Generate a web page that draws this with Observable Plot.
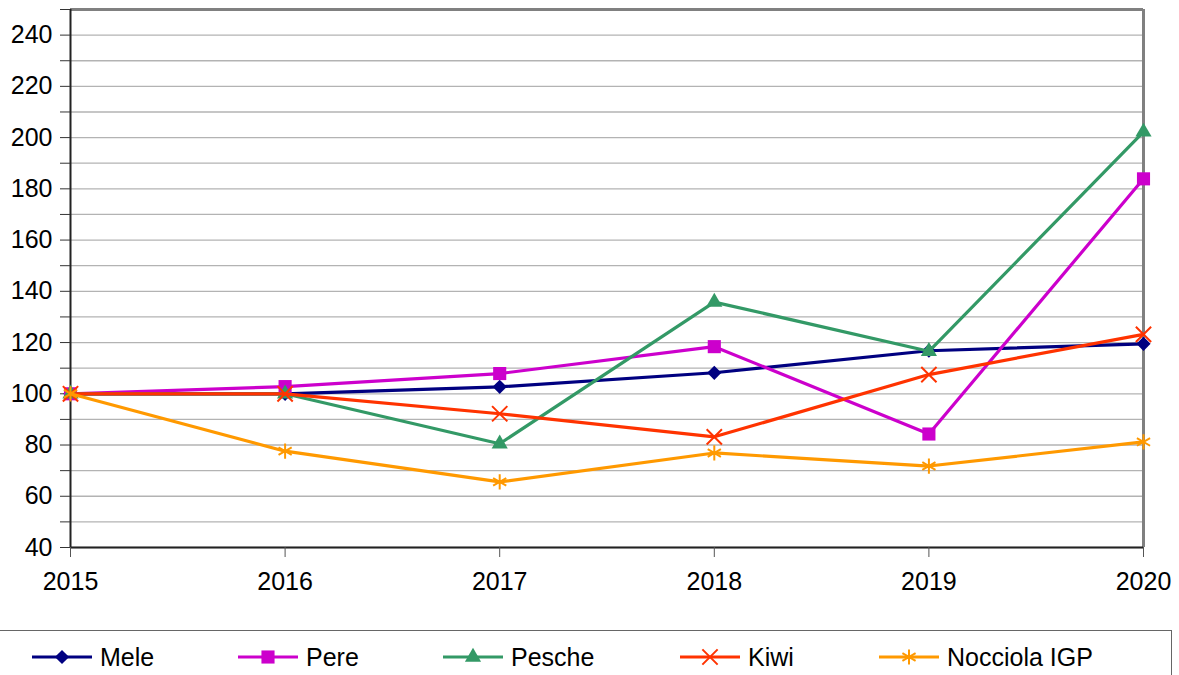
<!DOCTYPE html>
<html>
<head>
<meta charset="utf-8">
<script src="https://cdn.jsdelivr.net/npm/d3@7"></script>
<script src="https://cdn.jsdelivr.net/npm/@observablehq/plot@0.6"></script>
<style>
  body { margin: 0; background: #fff; font-family: "Liberation Sans", Arial, sans-serif; }
  #wrap { position: relative; width: 1179px; height: 675px; overflow: hidden; }
  #legend { position: absolute; left: 0; top: 630px; width: 1172px; height: 80px; border-top: 1.5px solid #666; border-right: 1.5px solid #666; box-sizing: border-box; }
  .item { position: absolute; top: 0; height: 50px; }
  .item svg { position: absolute; left: 0; top: 13px; }
  .item span { position: absolute; top: 12px; font-size: 25px; color: #000; white-space: nowrap; line-height: 28px; }
</style>
</head>
<body>
<div id="wrap"><div id="chart"></div><div id="legend"></div></div>
<script>
const years = [2015, 2016, 2017, 2018, 2019, 2020];
const seriesNames = ["Mele", "Pere", "Pesche", "Kiwi", "Nocciola IGP"];
const mele = [100, 100, 102.7, 108.2, 116.8, 119.5];
const pere = [100, 102.8, 107.9, 118.4, 84.3, 183.9];
const pesche = [100, 100, 80.5, 135.8, 116.6, 202.2];
const kiwi = [100, 100, 92.2, 83.2, 107.5, 123.2];
const nocciola = [100, 77.6, 65.6, 76.9, 71.8, 81.2];
const yTicks = d3.range(40, 251, 10);

const seriesValues = [mele, pere, pesche, kiwi, nocciola];
const colors = ["#000080", "#cc00cc", "#339966", "#ff3300", "#ff9900"];
const symbols = ["diamond2", "square", "triangle", "times", "asterisk"];
const filled = [true, true, true, false, false];
const radii = [6.4, 7.4, 6.0, 7.0, 7.2];

const marks = [
  Plot.ruleY(yTicks, {stroke: "#b3b3b3", strokeWidth: 1.3}),
  Plot.ruleY([250], {stroke: "#808080", strokeWidth: 3}),
  Plot.ruleX([2020], {stroke: "#808080", strokeWidth: 3}),
  Plot.ruleX([2015], {stroke: "#222", strokeWidth: 2}),
  Plot.ruleY([40], {stroke: "#222", strokeWidth: 2}),
  Plot.axisY({ticks: yTicks, tickSize: 10, tickPadding: 8, fontSize: 25, stroke: "#333",
    tickFormat: d => (d % 20 === 0 && d <= 240) ? String(d) : "", label: null}),
  Plot.axisX({ticks: years, tickSize: 10, tickPadding: 15, fontSize: 25, stroke: "#555",
    tickFormat: d3.format("d"), label: null})
];

seriesValues.forEach((vals, i) => {
  const data = years.map((yr, j) => ({year: yr, value: vals[j]}));
  marks.push(Plot.line(data, {x: "year", y: "value", stroke: colors[i], strokeWidth: 3.2}));
  if (filled[i]) {
    marks.push(Plot.dot(data, {x: "year", y: "value", symbol: () => symbols[i], fill: colors[i], stroke: "none", r: radii[i]}));
  } else {
    marks.push(Plot.dot(data, {x: "year", y: "value", symbol: () => symbols[i], stroke: colors[i], strokeWidth: 2, fill: "none", r: radii[i]}));
  }
});

const chart = Plot.plot({
  width: 1179,
  height: 600,
  marginLeft: 70,
  marginRight: 36,
  marginTop: 9,
  marginBottom: 53,
  style: {fontFamily: "Liberation Sans, Arial, sans-serif", color: "#000", background: "#fff", overflow: "visible"},
  x: {type: "linear", domain: [2015, 2020]},
  y: {domain: [40, 250]},
  symbol: {type: "identity"},
  marks
});
document.getElementById("chart").appendChild(chart);

// Legend
const legendLeft = [32, 238, 443, 680, 879];
const d3sym = {diamond2: d3.symbolDiamond2, square: d3.symbolSquare, triangle: d3.symbolTriangle, times: d3.symbolTimes, asterisk: d3.symbolAsterisk};
const legend = d3.select("#legend");
seriesNames.forEach((name, i) => {
  const item = legend.append("div").attr("class", "item").style("left", legendLeft[i] + "px");
  const svg = item.append("svg").attr("width", 62).attr("height", 26);
  svg.append("line").attr("x1", 0).attr("x2", 60).attr("y1", 13).attr("y2", 13)
    .attr("stroke", colors[i]).attr("stroke-width", 3.2);
  const path = d3.symbol(d3sym[symbols[i]], Math.PI * radii[i] * radii[i])();
  svg.append("path").attr("d", path).attr("transform", "translate(30,13)")
    .attr("fill", filled[i] ? colors[i] : "none")
    .attr("stroke", filled[i] ? "none" : colors[i])
    .attr("stroke-width", 2);
  item.append("span").style("left", "68px").text(name);
});
</script>
</body>
</html>
